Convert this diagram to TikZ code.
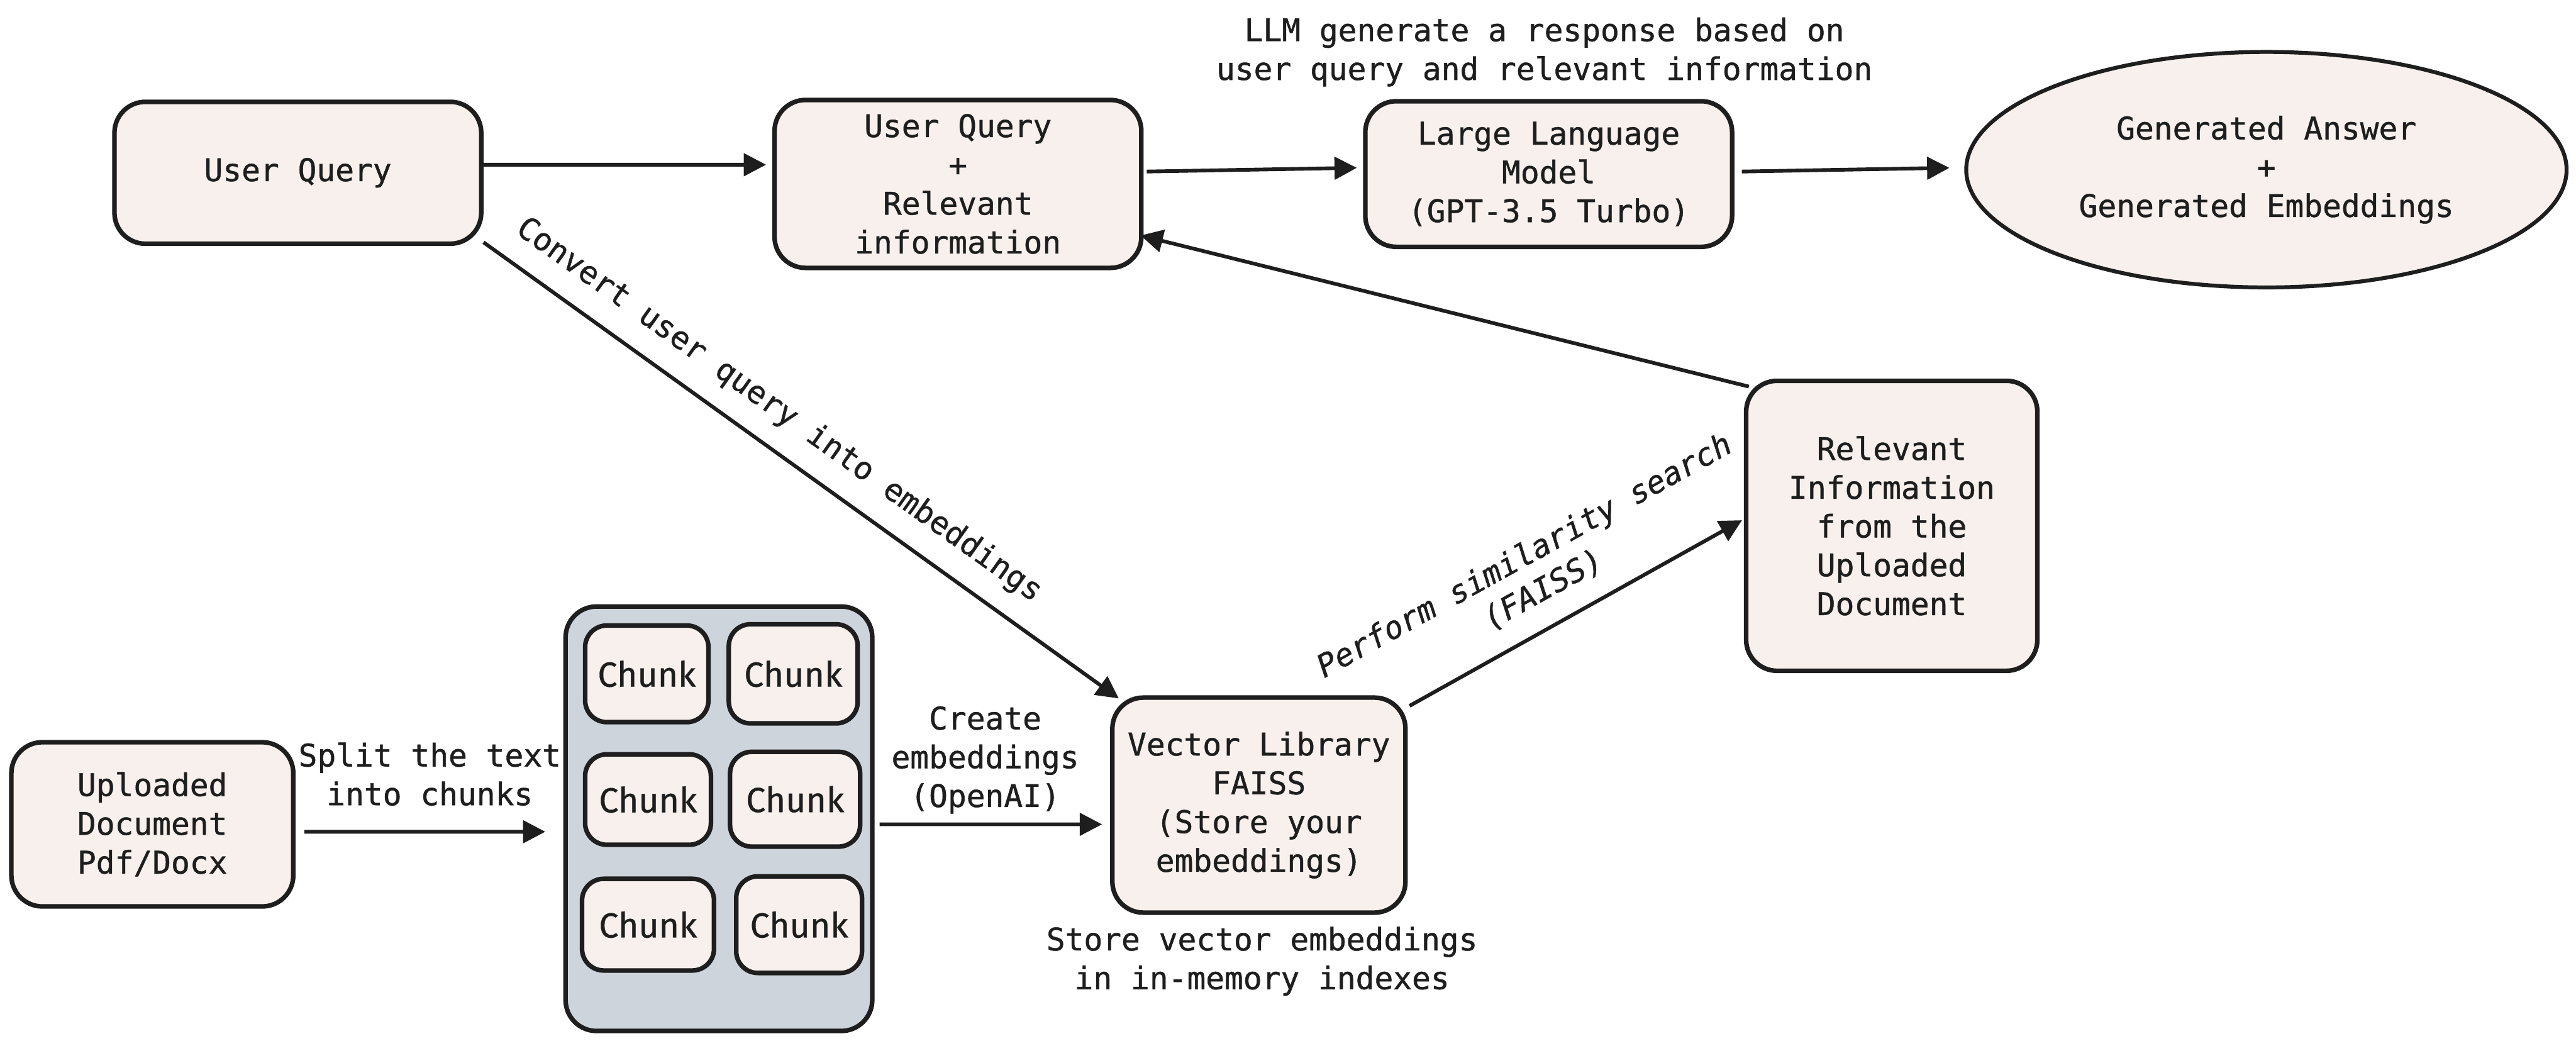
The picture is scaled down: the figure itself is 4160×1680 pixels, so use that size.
\documentclass[tikz,border=0pt]{standalone}
\usepackage{fontspec}
\setmainfont[FakeBold=0.9]{DejaVu Sans Mono}
\newfontfamily\chunkfont[FakeBold=0.6]{Fira Sans}
\usetikzlibrary{shapes.geometric,arrows.meta}
\definecolor{boxfill}{HTML}{F7F0EC}
\definecolor{contfill}{HTML}{CED4DC}
\definecolor{ink}{HTML}{1E1E1E}
\begin{document}
\begin{tikzpicture}[x=0.01cm,y=-0.01cm,
  txt/.style={font=\fontsize{14.3}{17.8}\selectfont,text=ink},
  box/.style={txt,draw=ink,fill=boxfill,line width=2.1pt,rounded corners=0.5cm,inner sep=0pt,align=center},
  chunkbox/.style={draw=ink,fill=boxfill,line width=2.1pt,rounded corners=0.35cm,inner sep=0pt,font=\chunkfont\fontsize{16}{19}\selectfont,text=ink},
  lbl/.style={txt,align=center,inner sep=0pt},
  arr/.style={draw=ink,line width=1.7pt,-{Triangle[length=0.36cm,width=0.36cm]}},
]
\useasboundingbox[fill=white] (0,0) rectangle (4160,1680);

% nodes
\node[box,minimum width=5.92cm,minimum height=2.29cm] (uq) at (481,279) {User Query};
\node[box,minimum width=5.92cm,minimum height=2.71cm] (uqr) at (1547,297) {User Query\\+\\Relevant\\information};
\node[box,minimum width=5.92cm,minimum height=2.35cm] (llm) at (2501,281) {Large Language\\Model\\(GPT-3.5 Turbo)};
\node[ellipse,txt,draw=ink,fill=boxfill,line width=1.8pt,inner sep=0pt,minimum width=9.69cm,minimum height=3.8cm,align=center] (ans) at (3660,274) {Generated Answer\\+\\Generated Embeddings};
\node[box,minimum width=4.70cm,minimum height=4.68cm] (ri) at (3055,849) {Relevant\\Information\\from the\\Uploaded\\Document};
\node[box,minimum width=4.73cm,minimum height=3.47cm] (vl) at (2033,1300) {Vector Library\\FAISS\\(Store your\\embeddings)};
\node[box,fill=contfill,minimum width=4.95cm,minimum height=6.85cm] (cont) at (1161,1322) {};
\node[chunkbox,minimum width=1.99cm,minimum height=1.56cm] (c11) at (1044.5,1088) {Chunk};
\node[chunkbox,minimum width=2.08cm,minimum height=1.60cm] (c12) at (1281,1088) {Chunk};
\node[chunkbox,minimum width=2.03cm,minimum height=1.46cm] (c21) at (1046.5,1291) {Chunk};
\node[chunkbox,minimum width=2.10cm,minimum height=1.53cm] (c22) at (1284,1290.5) {Chunk};
\node[chunkbox,minimum width=2.13cm,minimum height=1.48cm] (c31) at (1046.5,1493) {Chunk};
\node[chunkbox,minimum width=2.03cm,minimum height=1.56cm] (c32) at (1290.5,1493) {Chunk};
\node[box,minimum width=4.55cm,minimum height=2.65cm] (ud) at (246,1331) {Uploaded\\Document\\Pdf/Docx};

% labels
\node[lbl] (lt) at (2494,84) {LLM generate a response based on\\user query and relevant information};
\node[lbl] (ls) at (694,1250) {Split the text\\into chunks};
\node[lbl] (lc) at (1591,1227) {Create\\embeddings\\(OpenAI)};
\node[lbl] (lst) at (2038,1552) {Store vector embeddings\\in in-memory indexes};
\node[lbl,rotate=-35.5] (lcv) at (1258,663) {Convert user query into embeddings};
\node[lbl,rotate=29,font=\fontsize{14.3}{17.8}\selectfont\itshape] (lp) at (2477,925) {Perform similarity search\\(FAISS)};

% connectors
\draw[arr] ([yshift=0.13cm]uq.east) -- ([yshift=0.31cm,xshift=-0.1cm]uqr.west);
\draw[arr] ([yshift=0.2cm,xshift=0.05cm]uqr.east) -- ([yshift=0.1cm,xshift=-0.1cm]llm.west);
\draw[arr] ([yshift=0.04cm,xshift=0.12cm]llm.east) -- ([xshift=-0.24cm,yshift=0.03cm]ans.west);
\draw[arr] ([xshift=0.08cm,yshift=-0.13cm]ri.north west) -- ([yshift=0.56cm,xshift=-0.05cm]uqr.south east);
\draw[arr] ([yshift=0.06cm]uq.south east) -- ([xshift=0.14cm,yshift=-0.05cm]vl.north west);
\draw[arr] ([xshift=0.03cm,yshift=-0.17cm]vl.north east) -- ([xshift=-0.03cm,yshift=0.09cm]ri.west);
\draw[arr] ([xshift=0.08cm,yshift=-0.09cm]cont.east) -- ([xshift=-0.13cm,yshift=-0.31cm]vl.west);
\draw[arr] ([xshift=0.14cm,yshift=-0.12cm]ud.east) -- ([xshift=-0.29cm,yshift=-0.21cm]cont.west);
\end{tikzpicture}
\end{document}
